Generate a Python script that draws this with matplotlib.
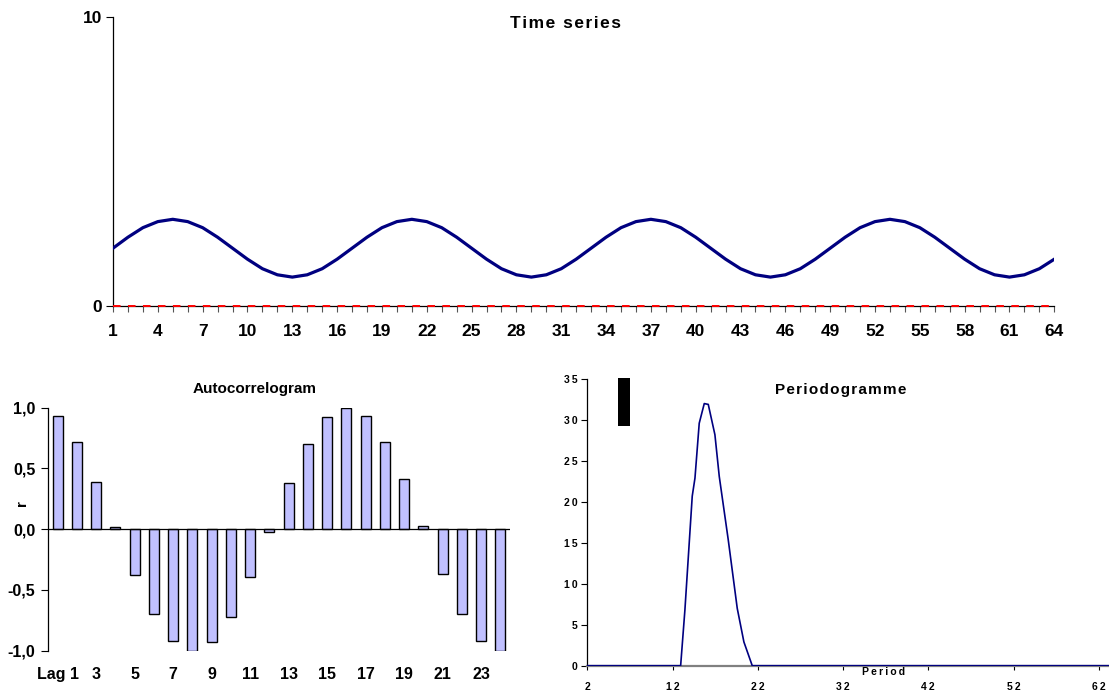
import matplotlib
matplotlib.use("Agg")
import matplotlib.pyplot as plt
from matplotlib.patches import Rectangle

plt.rcParams['font.family'] = ['Liberation Sans', 'DejaVu Sans']
plt.rcParams['font.weight'] = 'bold'

# ---- data ----
time_index = list(range(1, 65))
series_values = [
    2.00, 2.38, 2.71, 2.92, 3.00, 2.92, 2.71, 2.38, 2.00, 1.62, 1.29, 1.08, 1.00, 1.08, 1.29, 1.62,
    2.00, 2.38, 2.71, 2.92, 3.00, 2.92, 2.71, 2.38, 2.00, 1.62, 1.29, 1.08, 1.00, 1.08, 1.29, 1.62,
    2.00, 2.38, 2.71, 2.92, 3.00, 2.92, 2.71, 2.38, 2.00, 1.62, 1.29, 1.08, 1.00, 1.08, 1.29, 1.62,
    2.00, 2.38, 2.71, 2.92, 3.00, 2.92, 2.71, 2.38, 2.00, 1.62, 1.29, 1.08, 1.00, 1.08, 1.29, 1.62,
]
baseline_values = [0.0] * 64

lags = list(range(1, 25))
acf_values = [0.93, 0.72, 0.39, 0.02, -0.38, -0.70, -0.92, -1.00, -0.93, -0.72, -0.39, -0.02,
              0.38, 0.70, 0.92, 1.00, 0.93, 0.72, 0.41, 0.03, -0.37, -0.70, -0.92, -1.00]
lag_labels = ["Lag 1", "3", "5", "7", "9", "11", "13", "15", "17", "19", "21", "23"]

periods = [2.0, 10.9, 12.95, 13.45, 14.31, 14.63, 15.13, 15.72, 16.19, 16.97, 17.48,
           18.53, 19.59, 20.37, 21.35, 31.2, 64.0]
power = [0.0, 0.0, 0.0, 6.8, 20.7, 22.9, 29.6, 32.0, 31.9, 28.2, 23.1,
         15.4, 7.0, 2.9, 0.0, 0.0, 0.0]
period_ticks = [2, 12, 22, 32, 42, 52, 62]
power_ticks = [0, 5, 10, 15, 20, 25, 30, 35]

W, H = 1109, 691
fig = plt.figure(figsize=(W / 100, H / 100), dpi=100)


def frac(x0, y_top, x1, y_bot):
    return [x0 / W, 1 - y_bot / H, (x1 - x0) / W, (y_bot - y_top) / H]


def spaced(s, gap="\u2009"):
    return gap.join(s)


NAVY = "#000080"

# ---- time series ----
ax1 = fig.add_axes(frac(113, 17, 1054.3, 306))
ax1.plot(time_index, series_values, color=NAVY, lw=2.3, solid_joinstyle='round', zorder=3)
ax1.plot(time_index, baseline_values, color='red', lw=1.4, dashes=(3.9, 3.8), zorder=4,
         clip_on=False)
ax1.set_xlim(1, 64)
ax1.set_ylim(0, 10)
ax1.set_yticks([0, 10])
ax1.set_xticks(time_index)
ax1.set_xticklabels([str(t) if (t - 1) % 3 == 0 else "" for t in time_index])
for sp in ("top", "right"):
    ax1.spines[sp].set_visible(False)
ax1.spines["left"].set_linewidth(0.9)
ax1.spines["bottom"].set_linewidth(0.9)
ax1.tick_params(axis='x', length=4, width=0.8, color='#555555', pad=9, labelsize=12.5)
ax1.tick_params(axis='y', length=5, width=0.8, pad=3, labelsize=12.5)
fig.text(566 / W, 1 - 23 / H, spaced("Time series", "\u200a"), ha='center', va='center',
         fontsize=12.5, fontweight='bold')

# ---- autocorrelogram ----
ax2 = fig.add_axes(frac(48, 407.7, 510, 650.7))
ax2.bar(lags, acf_values, width=0.52, color="#C0C0FF", edgecolor='black', linewidth=1.0, zorder=3)
ax2.axhline(0, color='black', lw=0.9, zorder=4)
ax2.set_xlim(0.5, 24.5)
ax2.set_ylim(-1, 1)
ax2.set_yticks([-1.0, -0.5, 0.0, 0.5, 1.0])
ax2.set_yticklabels(["-1,0", "-0,5", "0,0", "0,5", "1,0"])
ax2.set_xticks(lags[::2])
ax2.set_xticklabels(lag_labels)
for sp in ("top", "right", "bottom"):
    ax2.spines[sp].set_visible(False)
ax2.spines["left"].set_linewidth(0.9)
ax2.tick_params(axis='x', length=0, pad=12, labelsize=11.5)
ax2.tick_params(axis='y', length=5, width=0.8, pad=4, labelsize=11.5)
fig.text(22 / W, 1 - 503 / H, "r", ha='center', va='center', rotation=90, fontsize=11,
         fontweight='bold')
fig.text(255 / W, 1 - 389 / H, "Autocorrelogram", ha='center', va='center', fontsize=11,
         fontweight='bold')

# ---- periodogram ----
ax3 = fig.add_axes(frac(587.3, 379, 1109, 665.7))
ax3.plot(periods, power, color=NAVY, lw=1.2, zorder=3)
ax3.set_xlim(2, 63.2)
ax3.set_ylim(0, 35)
ax3.set_xticks(period_ticks)
ax3.set_xticklabels([spaced(str(t)) for t in period_ticks])
ax3.set_yticks(power_ticks)
ax3.set_yticklabels([spaced(str(t)) for t in power_ticks])
for sp in ("top", "right"):
    ax3.spines[sp].set_visible(False)
ax3.spines["bottom"].set_color('#808080')
ax3.spines["bottom"].set_linewidth(1.6)
ax3.spines["left"].set_linewidth(0.9)
ax3.tick_params(axis='x', length=3, width=0.8, color='black', pad=9, labelsize=7.5)
ax3.tick_params(axis='y', length=4, width=0.8, pad=3, labelsize=7.5)
ax3.add_patch(Rectangle((5.6, 29.3), 1.4, 5.8, facecolor='black', edgecolor='none',
                        clip_on=False, zorder=5))
fig.text(884 / W, 1 - 672 / H, spaced("Period"), ha='center', va='center', fontsize=7.5,
         fontweight='bold')
fig.text(841 / W, 1 - 390 / H, spaced("Periodogramme", "\u200a"), ha='center', va='center',
         fontsize=11, fontweight='bold')

fig.savefig("out.png", dpi=100)
